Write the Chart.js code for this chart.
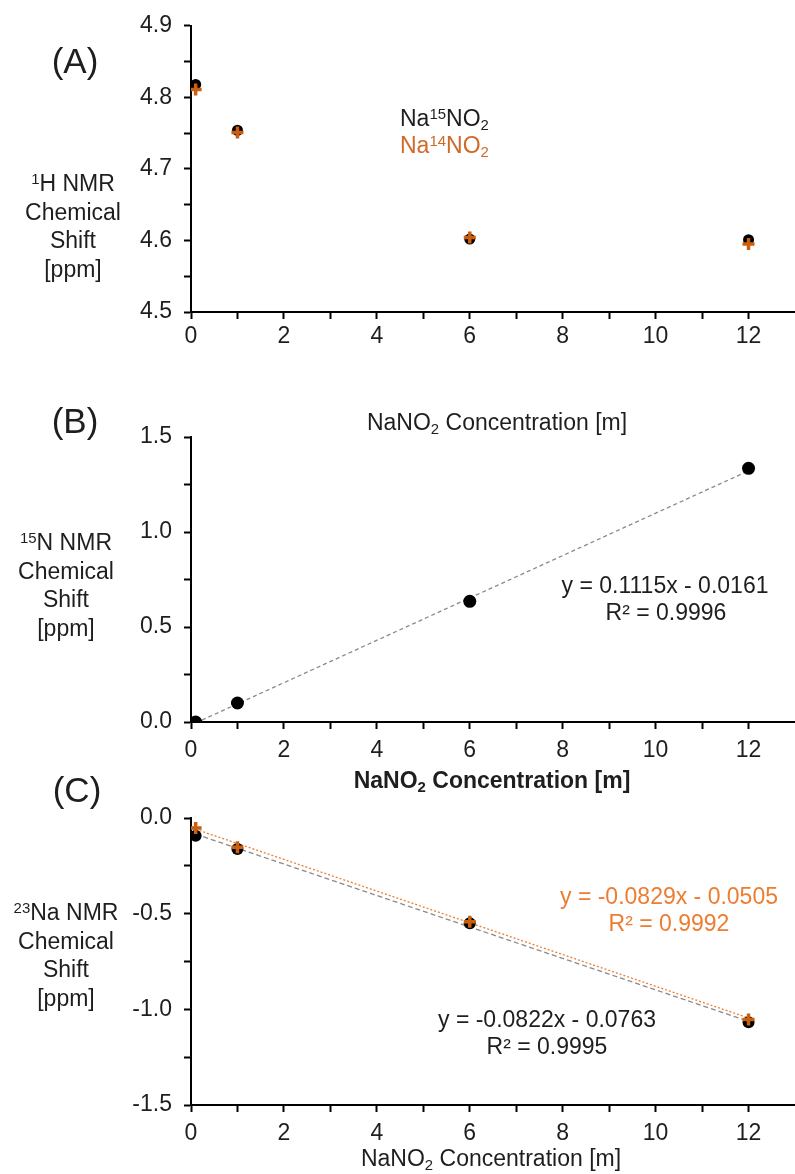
<!DOCTYPE html>
<html>
<head>
<meta charset="utf-8">
<script src="https://cdn.jsdelivr.net/npm/chart.js@4.4.1/dist/chart.umd.min.js"></script>
<style>
  html, body { margin: 0; padding: 0; background: #fff; }
  #page { position: relative; width: 795px; height: 1174px; overflow: hidden;
          font-family: Arial, "Liberation Sans", sans-serif; color: #1e1e1e; }
  canvas { position: absolute; left: 0; }
  .t { position: absolute; white-space: nowrap; transform: translate(-50%, -50%);
       font-size: 23px; line-height: 1; z-index: 2; }
  .tl { transform: translate(0, -50%); }
  .ytitle { position: absolute; transform: translate(-50%, -50%); text-align: center;
            font-size: 23px; line-height: 28.5px; white-space: nowrap; z-index: 2; }
  .panel { font-size: 35px; }
  .bold { font-weight: bold; }
  .orange { color: #ED7D31; }
  .legend14 { color: #D06A28; }
  sub { font-size: 0.65em; vertical-align: -0.3em; line-height: 0; }
  sup { font-size: 0.65em; vertical-align: 0.45em; line-height: 0; }
</style>
</head>
<body>
<div id="page">
  <canvas id="chartA" width="795" height="360" style="top:0px"></canvas>
  <canvas id="chartB" width="795" height="380" style="top:400px"></canvas>
  <canvas id="chartC" width="795" height="394" style="top:780px"></canvas>

  <!-- panel letters -->
  <div class="t panel" style="left:75px; top:60px">(A)</div>
  <div class="t panel" style="left:75px; top:420px">(B)</div>
  <div class="t panel" style="left:77px; top:789px">(C)</div>

  <!-- y-axis titles -->
  <div class="ytitle" style="left:73px; top:226px"><sup>1</sup>H NMR<br>Chemical<br>Shift<br>[ppm]</div>
  <div class="ytitle" style="left:66px; top:585px"><sup>15</sup>N NMR<br>Chemical<br>Shift<br>[ppm]</div>
  <div class="ytitle" style="left:66px; top:955px"><sup>23</sup>Na NMR<br>Chemical<br>Shift<br>[ppm]</div>

  <!-- x-axis titles -->
  <div class="t" style="left:497px; top:422px">NaNO<sub>2</sub> Concentration [m]</div>
  <div class="t bold" style="left:492px; top:780px">NaNO<sub>2</sub> Concentration [m]</div>
  <div class="t" style="left:491px; top:1158px">NaNO<sub>2</sub> Concentration [m]</div>

  <!-- legend of panel A -->
  <div class="t tl" style="left:400px; top:118px">Na<sup>15</sup>NO<sub>2</sub></div>
  <div class="t tl legend14" style="left:400px; top:145px">Na<sup>14</sup>NO<sub>2</sub></div>

  <!-- regression equations -->
  <div class="t" style="left:665px; top:585px">y = 0.1115x - 0.0161</div>
  <div class="t" style="left:666px; top:612px">R² = 0.9996</div>
  <div class="t orange" style="left:669px; top:896px">y = -0.0829x - 0.0505</div>
  <div class="t orange" style="left:669px; top:923px">R² = 0.9992</div>
  <div class="t" style="left:547px; top:1019px">y = -0.0822x - 0.0763</div>
  <div class="t" style="left:547px; top:1046px">R² = 0.9995</div>
</div>

<script>
// NaNO2 concentration of each sample [mol/kg]
const concentration = [0.1, 1, 6, 12];

// (A) 1H chemical shift [ppm]
const h1ShiftNa15 = [4.818, 4.754, 4.602, 4.601];
const h1ShiftNa14 = [4.811, 4.751, 4.604, 4.595];

// (B) 15N chemical shift [ppm]
const n15Shift = [0.0, 0.10, 0.635, 1.335];

// (C) 23Na chemical shift [ppm]
const na23ShiftNa15 = [-0.093, -0.162, -0.550, -1.068];
const na23ShiftNa14 = [-0.052, -0.153, -0.542, -1.053];

// linear fits: [slope, intercept]
const n15Fit = [0.1115, -0.0161];
const na23FitNa15 = [-0.0822, -0.0763];
const na23FitNa14 = [-0.0829, -0.0505];

// axis ticks
const xTickLabels = [0, 2, 4, 6, 8, 10, 12];
const xMinorTicks = [1, 3, 5, 7, 9, 11];
const yTickLabelsA = [4.5, 4.6, 4.7, 4.8, 4.9];
const yMinorTicksA = [4.55, 4.65, 4.75, 4.85];
const yTickLabelsB = [0.0, 0.5, 1.0, 1.5];
const yMinorTicksB = [0.25, 0.75, 1.25];
const yTickLabelsC = [-1.5, -1.0, -0.5, 0.0];
const yMinorTicksC = [-1.25, -0.75, -0.25];

const BLACK = '#000000';
const ORANGE_MARK = '#C8600F';
const ORANGE_LINE = '#ED7D31';
const GREY_LINE = '#8a8a8a';
const FONT = { family: 'Arial, "Liberation Sans", sans-serif', size: 23 };

const points = (xs, ys) => xs.map((x, i) => ({ x: x, y: ys[i] }));
const fitLine = (fit) => {
  const xs = [concentration[0], concentration[concentration.length - 1]];
  return xs.map(x => ({ x: x, y: fit[0] * x + fit[1] }));
};
const has = (arr, v) => arr.some(a => Math.abs(a - v) < 1e-9);

function circleSet(data, r) {
  return { type: 'scatter', data: data, pointStyle: 'circle', pointRadius: r,
           pointBackgroundColor: BLACK, pointBorderColor: BLACK, pointBorderWidth: 0, order: 1 };
}
function crossSet(data, r) {
  return { type: 'scatter', data: data, pointStyle: 'cross', pointRadius: r,
           pointBorderColor: ORANGE_MARK, pointBackgroundColor: ORANGE_MARK, pointBorderWidth: 3.5, order: 0 };
}
function trendSet(data, color, dash) {
  return { type: 'line', data: data, showLine: true, pointRadius: 0, borderColor: color,
           borderWidth: 1.3, borderDash: dash, fill: false, order: 3 };
}

function makePanel(id, p) {
  const yTicks = p.yLabels.concat(p.yMinor).sort((a, b) => a - b);
  const xTicks = xTickLabels.concat(xMinorTicks).sort((a, b) => a - b);
  const axisCommon = {
    border: { display: true, color: BLACK, width: 2 },
    grid: { drawOnChartArea: false, drawTicks: true, tickLength: 7, tickColor: BLACK, tickWidth: 2 },
  };
  return new Chart(document.getElementById(id), {
    type: 'scatter',
    data: { datasets: p.datasets },
    options: {
      responsive: false,
      animation: false,
      devicePixelRatio: 1,
      layout: { autoPadding: false, padding: { top: p.top, left: 0, right: 0, bottom: 0 } },
      plugins: { legend: { display: false }, tooltip: { enabled: false } },
      scales: {
        x: Object.assign({}, axisCommon, {
          type: 'linear', min: 0, max: 13,
          afterBuildTicks: s => { s.ticks = xTicks.map(v => ({ value: v })); },
          afterFit: s => { s.height = p.xHeight; },
          ticks: { autoSkip: false, maxRotation: 0, padding: p.xPad, color: '#1e1e1e', font: FONT,
                   callback: v => has(xTickLabels, v) ? String(v) : '' },
        }),
        y: Object.assign({}, axisCommon, {
          type: 'linear', min: p.yMin, max: p.yMax,
          afterBuildTicks: s => { s.ticks = yTicks.map(v => ({ value: v })); },
          afterFit: s => { s.width = 191; },
          ticks: { autoSkip: false, padding: 12, color: '#1e1e1e', font: FONT,
                   callback: v => has(p.yLabels, v) ? v.toFixed(1) : '' },
        }),
      },
    },
  });
}

// (A) water 1H shift
makePanel('chartA', {
  top: 24, xHeight: 48, xPad: 4, yMin: 4.5, yMax: 4.9,
  yLabels: yTickLabelsA, yMinor: yMinorTicksA,
  datasets: [
    circleSet(points(concentration, h1ShiftNa15), 5.5),
    crossSet(points(concentration, h1ShiftNa14), 6),
  ],
});

// (B) nitrite 15N shift
makePanel('chartB', {
  top: 37, xHeight: 58, xPad: 8, yMin: 0, yMax: 1.5,
  yLabels: yTickLabelsB, yMinor: yMinorTicksB,
  datasets: [
    circleSet(points(concentration, n15Shift), 6.5),
    trendSet(fitLine(n15Fit), GREY_LINE, [4, 3]),
  ],
});

// (C) sodium 23Na shift
makePanel('chartC', {
  top: 38, xHeight: 69, xPad: 8, yMin: -1.5, yMax: 0,
  yLabels: yTickLabelsC, yMinor: yMinorTicksC,
  datasets: [
    circleSet(points(concentration, na23ShiftNa15), 6),
    crossSet(points(concentration, na23ShiftNa14), 6),
    trendSet(fitLine(na23FitNa15), GREY_LINE, [5, 3]),
    trendSet(fitLine(na23FitNa14), ORANGE_LINE, [2, 2]),
  ],
});
</script>
</body>
</html>
